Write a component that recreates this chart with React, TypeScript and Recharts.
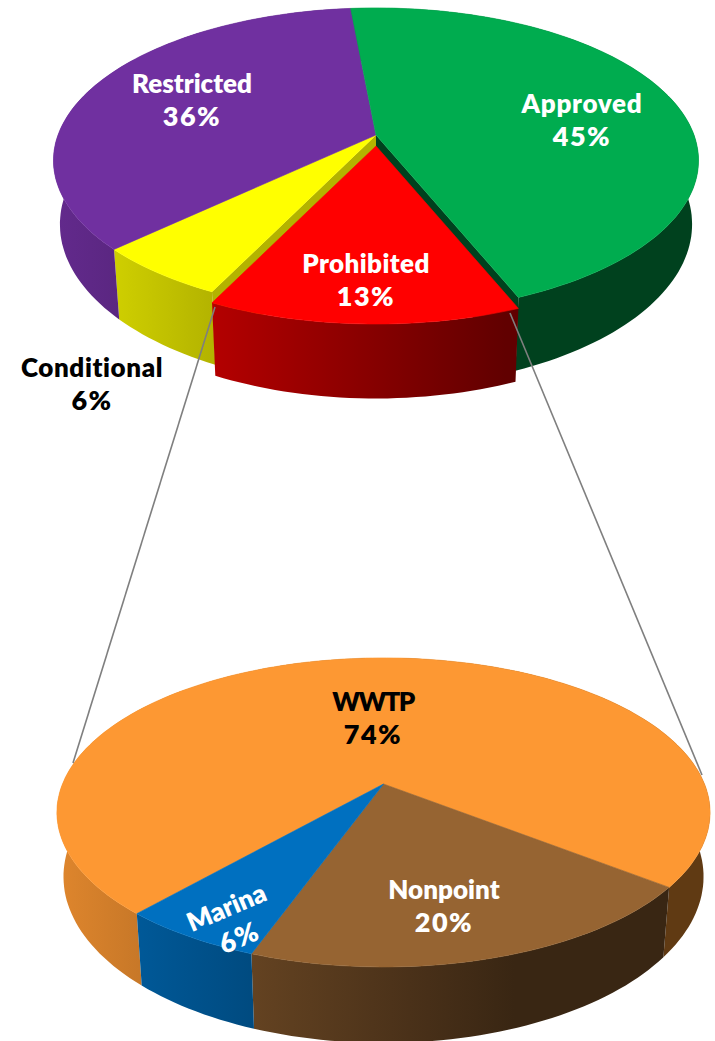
import { Pie, PieChart } from 'recharts'

const WIDTH = 715
const HEIGHT = 1041

// upper pie, clockwise. Prohibited stays last so it paints over its neighbours
const topNames = ['Conditional', 'Restricted', 'Approved', 'Prohibited']
const topValues = [5.8, 35.5, 45.3, 13.4]
const topColors = ['#ffff00', '#7030a0', '#00ac4f', '#ff0000']

// lower pie, breakdown of the prohibited slice
const bottomNames = ['WWTP', 'Nonpoint', 'Marina']
const bottomValues = [74, 20, 6]
const bottomColors = ['#fd9833', '#966432', '#0070c0']

const topData = topNames.map((name, i) => ({ name, value: topValues[i], color: topColors[i] }))
const bottomData = bottomNames.map((name, i) => ({ name, value: bottomValues[i], color: bottomColors[i] }))

const TOP_VIEW = { ry: 148.3, k: 0.167, depth: 62 }
const BOTTOM_VIEW = { ry: 149.3, k: 0.184, depth: 62 }
const EXPLODE: Record<string, number> = { Prohibited: 11 }
// cut faces left open by the exploded slice
const OPEN_SIDE: Record<string, 'first' | 'last'> = { Approved: 'last', Conditional: 'first' }

const FONT = 'Lato, "Noto Sans", sans-serif'

// x, y = centre and first baseline of the two line label
const LABELS: Record<string, { x: number; y: number; fill: string; rotate?: number; spacing?: number }> = {
  Approved: { x: 582, y: 113, fill: '#fff', spacing: 0.7 },
  Restricted: { x: 192, y: 93, fill: '#fff' },
  Conditional: { x: 92, y: 377, fill: '#000', spacing: 0.6 },
  Prohibited: { x: 366, y: 273, fill: '#fff', spacing: 0.4 },
  WWTP: { x: 373, y: 711, fill: '#000', spacing: -1.6 },
  Nonpoint: { x: 444, y: 899, fill: '#fff' },
  Marina: { x: 230, y: 916, fill: '#fff', rotate: -23 },
}

type View = typeof TOP_VIEW

function shadeAt(t: number) {
  // light from the left, darker across the wall
  return t < 0.7 ? 0.88 - (0.88 - 0.38) * (t / 0.7) : 0.38
}

function tint(hex: string, f: number) {
  const n = parseInt(hex.slice(1), 16)
  const c = [(n >> 16) & 255, (n >> 8) & 255, n & 255].map(v => Math.round(v * f))
  return `rgb(${c[0]},${c[1]},${c[2]})`
}

function makeProjector(cx: number, cy: number, rx: number, view: View, dy: number) {
  const flat = (u: number, v: number) => {
    const w = 1 - view.k * v
    return { x: cx + (rx * u) / w, y: cy + dy + (view.ry * v) / w }
  }
  const low = (u: number, v: number) => {
    const p = flat(u, v)
    return { x: cx + (p.x - cx) * 0.98, y: p.y + view.depth / (1 - view.k * v) }
  }
  return { flat, low }
}

function SlicePart(props: any, view: View, part: 'top' | 'wall') {
  const { cx, cy, outerRadius, startAngle, endAngle, name, payload, index } = props
  const label = name ?? payload?.name
  const color = props.color ?? payload?.color
  const dy = EXPLODE[label] ?? 0
  const { flat, low } = makeProjector(cx, cy, outerRadius, view, dy)

  const steps = Math.max(12, Math.ceil(Math.abs(endAngle - startAngle) / 1.5))
  const arc: [number, number][] = []
  for (let i = 0; i <= steps; i++) {
    const a = ((startAngle + ((endAngle - startAngle) * i) / steps) * Math.PI) / 180
    arc.push([Math.cos(a), -Math.sin(a)])
  }
  const path = (pts: { x: number; y: number }[]) =>
    'M' + pts.map(p => `${p.x.toFixed(1)},${p.y.toFixed(1)}`).join('L') + 'Z'

  if (part === 'top') {
    const d = path([flat(0, 0), ...arc.map(([u, v]) => flat(u, v))])
    return (
      <g>
        <path d={d} fill={color} stroke={color} strokeWidth={0.6} />
        {/* leader lines go here, Recharts paints plain children below the pies */}
        {label === 'Prohibited' && (
          <g stroke="#7f7f7f" strokeWidth={1.6}>
            <line x1={215} y1={307} x2={73} y2={763} />
            <line x1={510} y1={313} x2={702} y2={775} />
          </g>
        )}
      </g>
    )
  }

  const left = cx - outerRadius * 1.02
  const span = outerRadius * 2.04
  const id = `wall-${Math.round(cx)}-${Math.round(cy)}-${index}`
  const stops = [0, 0.18, 0.36, 0.54, 0.7, 1]
  const open = OPEN_SIDE[label]
  const end = open === 'first' ? arc[0] : arc[arc.length - 1]
  const sideFill = tint(color, shadeAt((flat(end[0], end[1]).x - left) / span))
  const side = path([flat(0, 0), flat(end[0], end[1]), low(end[0], end[1]), low(0, 0)])
  const wall = path([
    ...arc.map(([u, v]) => flat(u, v)),
    ...[...arc].reverse().map(([u, v]) => low(u, v)),
  ])
  return (
    <g>
      <defs>
        <linearGradient id={id} gradientUnits="userSpaceOnUse" x1={left} x2={left + span} y1={0} y2={0}>
          {stops.map(s => (
            <stop key={s} offset={s} stopColor={tint(color, shadeAt(s))} />
          ))}
        </linearGradient>
      </defs>
      {open && <path d={side} fill={sideFill} />}
      <path d={wall} fill={`url(#${id})`} />
    </g>
  )
}

function renderLabel(p: any) {
  const name = p.name ?? p.payload?.name
  const pos = LABELS[name]
  const pct = `${Math.round(p.value)}%`
  return (
    <text
      key={name}
      fontFamily={FONT}
      fontWeight={800}
      fontSize={26}
      fill={pos.fill}
      textAnchor="middle"
      transform={pos.rotate ? `rotate(${pos.rotate} ${pos.x} ${pos.y})` : undefined}
    >
      <tspan x={pos.x} y={pos.y} letterSpacing={pos.spacing}>{name}</tspan>
      <tspan x={pos.x} dy={33} fontSize={27} letterSpacing={1.5}>{pct}</tspan>
    </text>
  )
}

const TOP_PIE = { cx: 376, cy: 135, outerRadius: 318, startAngle: -116, endAngle: -476 }
const BOTTOM_PIE = { cx: 383.5, cy: 784, outerRadius: 321, startAngle: 228.5, endAngle: -131.5 }

export default function App() {
  return (
    <div style={{ position: 'absolute', left: 0, top: 0, width: WIDTH, height: HEIGHT }}>
      <PieChart width={WIDTH} height={HEIGHT} margin={{ top: 0, right: 0, bottom: 0, left: 0 }}>
        <Pie
          data={bottomData}
          dataKey="value"
          nameKey="name"
          {...BOTTOM_PIE}
          stroke="none"
          isAnimationActive={false}
          shape={(p: any) => SlicePart(p, BOTTOM_VIEW, 'wall')}
        />
        <Pie
          data={bottomData}
          dataKey="value"
          nameKey="name"
          {...BOTTOM_PIE}
          stroke="none"
          isAnimationActive={false}
          labelLine={false}
          label={renderLabel}
          shape={(p: any) => SlicePart(p, BOTTOM_VIEW, 'top')}
        />
        <Pie
          data={topData}
          dataKey="value"
          nameKey="name"
          {...TOP_PIE}
          stroke="none"
          isAnimationActive={false}
          shape={(p: any) => SlicePart(p, TOP_VIEW, 'wall')}
        />
        <Pie
          data={topData}
          dataKey="value"
          nameKey="name"
          {...TOP_PIE}
          stroke="none"
          isAnimationActive={false}
          labelLine={false}
          label={renderLabel}
          shape={(p: any) => SlicePart(p, TOP_VIEW, 'top')}
        />
      </PieChart>
    </div>
  )
}
